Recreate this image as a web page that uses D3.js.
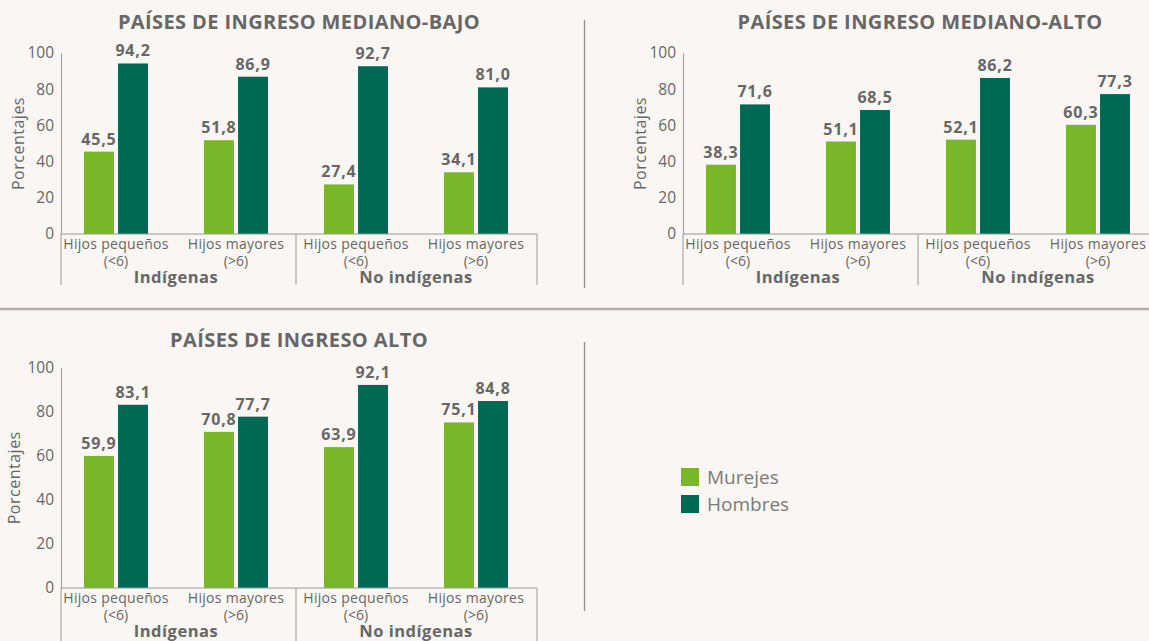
<!DOCTYPE html>
<html>
<head>
<meta charset="utf-8">
<script src="https://cdn.jsdelivr.net/npm/d3@7"></script>
<style>
  body { margin: 0; background: #faf6f3; }
  svg { display: block; }
  text { font-family: "Open Sans", "DejaVu Sans", sans-serif; fill: #676767; }
</style>
</head>
<body>
<div id="chart"></div>
<script>
// ---- data ----
const subLine1 = ["Hijos pequeños", "Hijos mayores", "Hijos pequeños", "Hijos mayores"];
const subLine2 = ["(<6)", "(>6)", "(<6)", "(>6)"];
const groups = ["Indígenas", "No indígenas"];
const series = ["Murejes", "Hombres"];
const yTicks = [0, 20, 40, 60, 80, 100];

const titles = ["PAÍSES DE INGRESO MEDIANO-BAJO", "PAÍSES DE INGRESO MEDIANO-ALTO", "PAÍSES DE INGRESO ALTO"];
const mujeresBajo = [45.5, 51.8, 27.4, 34.1];
const hombresBajo = [94.2, 86.9, 92.7, 81.0];
const mujeresMedAlto = [38.3, 51.1, 52.1, 60.3];
const hombresMedAlto = [71.6, 68.5, 86.2, 77.3];
const mujeresAlto = [59.9, 70.8, 63.9, 75.1];
const hombresAlto = [83.1, 77.7, 92.1, 84.8];

const colors = { "Murejes": "#78b72a", "Hombres": "#006954" };
const fmt = v => d3.format(".1f")(v).replace(".", ",");

const W = 1149, H = 641;
const svg = d3.select("#chart").append("svg").attr("width", W).attr("height", H);

// panel layouts
const panels = [
    { title: titles[0], m: mujeresBajo, h: hombresBajo, ax: 61, xEnd: 537, y0: 234, y100: 53, ty: 29, ylx: 18, sepEnd: 285 },
    { title: titles[1], m: mujeresMedAlto, h: hombresMedAlto, ax: 683, xEnd: 1157, y0: 234, y100: 53, ty: 29, ylx: 640, sepEnd: 285 },
    { title: titles[2], m: mujeresAlto, h: hombresAlto, ax: 61, xEnd: 537, y0: 588, y100: 367.5, ty: 347, ylx: 14, sepEnd: 641 }
];

const drawPanel = p => {
    const g = svg.append("g");
    const x = d3.scaleBand().domain(d3.range(4)).range([p.ax - 5, p.ax + 475]);
    const x1 = d3.scaleBand().domain(series).range([-32, 32]).paddingInner(0.12);
    const y = d3.scaleLinear().domain([0, 100]).range([p.y0, p.y100]);
    const cx = i => x(i) + x.bandwidth() / 2;

    // title
    g.append("text")
        .attr("x", (p.ax + p.xEnd) / 2).attr("y", p.ty)
        .attr("text-anchor", "middle")
        .style("font-size", "20px").style("font-weight", "bold").style("letter-spacing", "0.4px")
        .text(p.title);

    // y axis
    const yAxis = g.append("g")
        .attr("transform", "translate(" + p.ax + ",0)")
        .call(d3.axisLeft(y).tickValues(yTicks).tickSize(0).tickPadding(7));
    yAxis.select(".domain").attr("stroke", "#9a9a9a");
    yAxis.selectAll("text").style("font-size", "15.5px").style("font-family", "'Open Sans', sans-serif").attr("fill", "#676767");

    g.append("text")
        .attr("transform", "translate(" + p.ylx + "," + ((p.y0 + p.y100) / 2) + ") rotate(-90)")
        .attr("text-anchor", "middle").attr("dy", "0.35em")
        .style("font-size", "16px").style("letter-spacing", "0.5px")
        .text("Porcentajes");

    // bars
    const rows = d3.range(4).flatMap(i => [
        { i: i, s: series[0], v: p.m[i] },
        { i: i, s: series[1], v: p.h[i] }
    ]);
    g.selectAll("rect.bar").data(rows).enter().append("rect")
        .attr("class", "bar")
        .attr("x", d => cx(d.i) + x1(d.s))
        .attr("width", x1.bandwidth())
        .attr("y", d => y(d.v))
        .attr("height", d => y(0) - y(d.v))
        .attr("fill", d => colors[d.s]);

    g.selectAll("text.val").data(rows).enter().append("text")
        .attr("class", "val")
        .attr("x", d => cx(d.i) + x1(d.s) + x1.bandwidth() / 2)
        .attr("y", d => y(d.v) - 7)
        .attr("text-anchor", "middle")
        .style("font-size", "16px").style("font-weight", "bold").style("letter-spacing", "0.8px")
        .text(d => fmt(d.v));

    // x baseline
    g.append("line")
        .attr("x1", p.ax).attr("x2", p.xEnd).attr("y1", y(0)).attr("y2", y(0))
        .attr("stroke", "#9a9a9a");

    // group separators
    [p.ax, x(2), p.xEnd].forEach(sx => {
        g.append("line")
            .attr("x1", sx).attr("x2", sx).attr("y1", y(0)).attr("y2", p.sepEnd)
            .attr("stroke", "#9a9a9a");
    });

    // category labels
    d3.range(4).forEach(i => {
        g.append("text").attr("x", cx(i)).attr("y", y(0) + 15)
            .attr("text-anchor", "middle").style("font-size", "14px").style("letter-spacing", "0.3px")
            .text(subLine1[i]);
        g.append("text").attr("x", cx(i)).attr("y", y(0) + 32)
            .attr("text-anchor", "middle").style("font-size", "14px")
            .text(subLine2[i]);
    });
    groups.forEach((gr, k) => {
        g.append("text")
            .attr("x", (cx(2 * k) + cx(2 * k + 1)) / 2).attr("y", y(0) + 49)
            .attr("text-anchor", "middle")
            .style("font-size", "16.5px").style("font-weight", "bold").style("letter-spacing", "0.5px")
            .text(gr);
    });
};

panels.forEach(drawPanel);

// dividers
svg.append("line").attr("x1", 0).attr("x2", W).attr("y1", 309).attr("y2", 309)
    .attr("stroke", "#b3adab").attr("stroke-width", 2.5);
svg.append("line").attr("x1", 584.5).attr("x2", 584.5).attr("y1", 20).attr("y2", 288)
    .attr("stroke", "#8f8f8f").attr("stroke-width", 1.3);
svg.append("line").attr("x1", 584.5).attr("x2", 584.5).attr("y1", 342).attr("y2", 611)
    .attr("stroke", "#8f8f8f").attr("stroke-width", 1.3);

// legend
const legend = svg.append("g").attr("transform", "translate(681,468)");
series.forEach((s, i) => {
    legend.append("rect").attr("x", 0).attr("y", i * 27).attr("width", 18).attr("height", 18)
        .attr("fill", colors[s]);
    legend.append("text").attr("x", 26).attr("y", i * 27 + 15.5)
        .style("font-size", "19px").style("fill", "#7a7a7a")
        .text(s);
});
</script>
</body>
</html>
